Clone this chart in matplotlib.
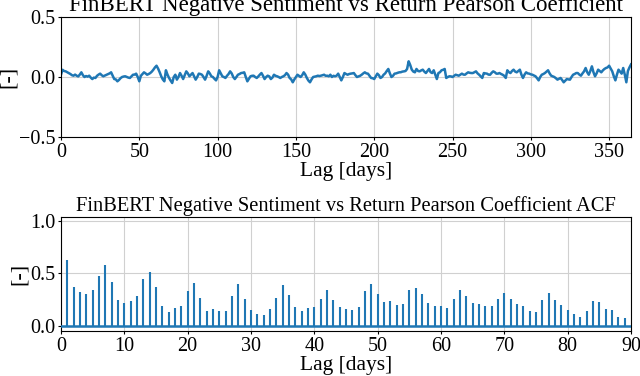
import matplotlib
matplotlib.use("Agg")
import matplotlib.pyplot as plt
import numpy as np

plt.rcParams['font.family'] = 'serif'
plt.rcParams['font.serif'] = ['Liberation Serif', 'DejaVu Serif']
plt.rcParams['font.size'] = 14.5
plt.rcParams['xtick.major.size'] = 2.5
plt.rcParams['ytick.major.size'] = 2.5
plt.rcParams['xtick.major.pad'] = 1.5
plt.rcParams['ytick.major.pad'] = 1.5

# Top series: Pearson coefficient per lag day (0..364)
pearson = [
    0.02, 0.06, 0.05, 0.047, 0.04, 0.033, 0.025, 0.015, 0.011, 0.02,
    0.011, 0.005, 0.02, 0.039, 0.015, 0.0, 0.008, 0.003, 0.011, -0.005,
    -0.017, -0.005, -0.008, 0.01, 0.02, 0.028, 0.015, 0.006, 0.012, 0.019,
    0.025, 0.03, 0.039, 0.01, -0.017, -0.02, -0.036, -0.025, -0.01, 0.0,
    0.004, 0.006, 0.0, -0.005, -0.008, 0.005, 0.019, 0.02, 0.028, 0.0,
    -0.036, 0.01, 0.025, 0.039, 0.03, 0.019, 0.025, 0.033, 0.045, 0.061,
    0.08, 0.094, 0.07, 0.04, 0.006, -0.02, -0.036, 0.056, 0.02, -0.008,
    -0.03, -0.05, 0.0, 0.019, -0.022, 0.0, 0.033, 0.01, -0.017, 0.015,
    0.047, 0.03, 0.006, 0.02, 0.033, 0.005, -0.022, 0.0, 0.028, 0.025,
    0.019, 0.0, -0.022, 0.01, 0.047, 0.03, 0.006, 0.0, -0.015, -0.028,
    0.0, 0.056, 0.03, 0.006, 0.0, -0.008, 0.01, 0.025, 0.047, 0.03,
    0.0, -0.017, 0.0, 0.019, 0.025, 0.033, 0.035, 0.039, 0.0, -0.036,
    -0.015, 0.006, 0.01, 0.011, 0.0, -0.008, 0.005, 0.02, 0.033, 0.01,
    -0.017, 0.0, 0.011, 0.005, -0.017, -0.005, 0.019, 0.01, 0.006, 0.0,
    -0.008, 0.0, 0.006, 0.015, 0.033, 0.02, -0.008, -0.02, -0.044, -0.02,
    0.0, 0.019, 0.01, 0.0, 0.015, 0.039, 0.02, -0.008, -0.03, -0.044,
    -0.02, 0.0, 0.003, 0.006, 0.011, 0.008, 0.011, 0.015, 0.019, 0.01,
    0.011, 0.006, 0.019, 0.0, 0.01, 0.006, 0.011, 0.028, 0.0, -0.028,
    0.0, 0.033, 0.025, 0.019, 0.025, 0.028, 0.03, 0.033, 0.015, 0.0,
    0.005, 0.01, 0.019, 0.03, 0.039, 0.03, 0.028, 0.01, -0.008, -0.01,
    -0.017, 0.005, 0.028, 0.015, -0.008, 0.0, 0.019, 0.03, 0.05, 0.067,
    0.03, 0.0, 0.01, 0.028, 0.03, 0.035, 0.039, 0.04, 0.045, 0.047,
    0.05, 0.067, 0.131, 0.1, 0.061, 0.045, 0.039, 0.067, 0.05, 0.047,
    0.055, 0.061, 0.045, 0.033, 0.05, 0.067, 0.04, 0.033, 0.056, 0.02,
    -0.017, 0.033, 0.04, 0.056, 0.06, 0.067, -0.008, 0.0, 0.006, 0.005,
    0.0, 0.01, 0.019, 0.015, 0.011, 0.02, 0.028, 0.02, 0.019, 0.03,
    0.039, 0.035, 0.033, 0.033, 0.04, 0.047, 0.03, 0.019, 0.005, -0.008,
    0.033, 0.03, 0.028, 0.02, 0.019, 0.035, 0.047, 0.04, 0.028, 0.028,
    0.033, 0.025, 0.019, 0.01, -0.008, 0.056, 0.04, 0.033, 0.05, 0.061,
    0.045, 0.039, 0.05, 0.061, 0.02, -0.008, 0.02, 0.039, 0.03, 0.028,
    0.022, 0.019, 0.012, 0.006, -0.01, -0.028, 0.0, 0.019, 0.025, 0.033,
    0.045, 0.056, 0.03, 0.011, 0.005, 0.0, -0.01, -0.022, -0.015, -0.008,
    -0.025, -0.044, -0.03, -0.017, -0.02, -0.022, 0.0, 0.019, 0.025, 0.033,
    0.033, 0.02, 0.011, 0.03, 0.047, 0.075, 0.04, 0.019, 0.05, 0.089,
    0.04, 0.006, 0.03, 0.061, 0.05, 0.039, 0.055, 0.067, 0.075, 0.08,
    0.094, 0.07, 0.047, 0.006, -0.028, 0.02, 0.061, 0.045, 0.028, 0.075,
    0.02, -0.044, 0.05, 0.08, 0.105,
]
lag_days = list(range(len(pearson)))

# Bottom series: ACF of the coefficient, lags 1..89
acf_vals = [
    0.63, 0.375, 0.32, 0.30, 0.34, 0.48, 0.58, 0.42, 0.245, 0.22,
    0.235, 0.285, 0.45, 0.51, 0.37, 0.19, 0.13, 0.17, 0.19, 0.33,
    0.41, 0.27, 0.14, 0.16, 0.14, 0.145, 0.285, 0.40, 0.26, 0.15,
    0.11, 0.105, 0.16, 0.27, 0.39, 0.29, 0.18, 0.14, 0.17, 0.18,
    0.26, 0.34, 0.245, 0.18, 0.16, 0.155, 0.18, 0.33, 0.40, 0.30,
    0.23, 0.24, 0.20, 0.205, 0.34, 0.365, 0.30, 0.22, 0.19, 0.19,
    0.17, 0.26, 0.34, 0.28, 0.22, 0.21, 0.19, 0.19, 0.26, 0.31,
    0.26, 0.21, 0.19, 0.14, 0.13, 0.25, 0.31, 0.25, 0.20, 0.15,
    0.11, 0.08, 0.14, 0.235, 0.23, 0.16, 0.15, 0.08, 0.075,
]
acf_lags = list(range(1, len(acf_vals) + 1))

title_top = "FinBERT Negative Sentiment vs Return Pearson Coefficient"
title_bot = "FinBERT Negative Sentiment vs Return Pearson Coefficient ACF"

fig = plt.figure(figsize=(6.4, 3.76), dpi=100)
ax1 = fig.add_axes([0.0953, 0.6356, 0.8907, 0.3192])
ax2 = fig.add_axes([0.0953, 0.1197, 0.8907, 0.3032])

ax1.plot(lag_days, pearson, color='#1f77b4', linewidth=1.8)
ax1.set_xlim(0, 364)
ax1.set_ylim(-0.5, 0.5)
ax1.set_xticks(range(0, 351, 50))
ax1.set_yticks([-0.5, 0.0, 0.5])
ax1.grid(True, color='#d0d0d0')
ax1.set_axisbelow(True)
ax1.set_title(title_top, fontsize=16.5, pad=4)
ax1.set_xlabel("Lag [days]", fontsize=15.5, labelpad=0)
ax1.set_ylabel("[-]", fontsize=16, labelpad=1)

ax2.axhline(0, color='#1f77b4', linewidth=1.8, zorder=3)
ml, sl, bl = ax2.stem(acf_lags, acf_vals, linefmt='C0-', markerfmt=' ', basefmt=' ')
plt.setp(sl, linewidth=1.5)
ax2.set_xlim(0, 90)
ax2.set_ylim(-0.05, 1.04)
ax2.set_xticks(range(0, 91, 10))
ax2.set_yticks([0.0, 0.5, 1.0])
ax2.grid(True, color='#d0d0d0')
ax2.set_axisbelow(True)
ax2.set_title(title_bot, fontsize=14.8, pad=4)
ax2.set_xlabel("Lag [days]", fontsize=15.5, labelpad=0)
ax2.set_ylabel("[-]", fontsize=16, labelpad=1)

fig.savefig("out.png", dpi=100)
